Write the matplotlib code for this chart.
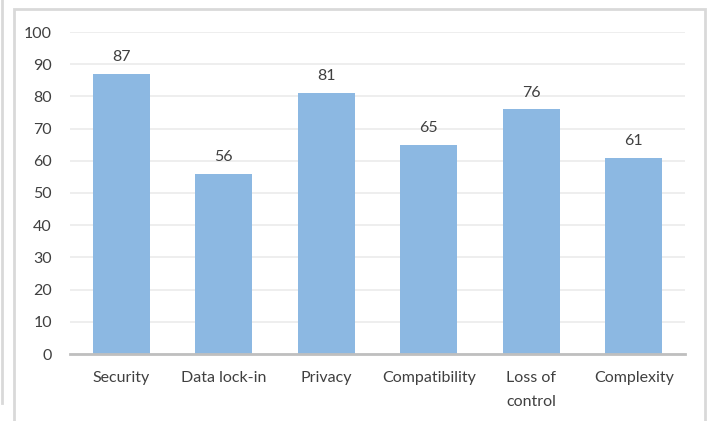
import matplotlib
matplotlib.use("Agg")
import matplotlib.pyplot as plt
from matplotlib.patches import Rectangle
from matplotlib.lines import Line2D

categories = ["Security", "Data lock-in", "Privacy", "Compatibility", "Loss of\ncontrol", "Complexity"]
values = [87, 56, 81, 65, 76, 61]
yticks = [0, 10, 20, 30, 40, 50, 60, 70, 80, 90, 100]

W, H = 712, 421
plt.rcParams['font.family'] = ['Lato', 'DejaVu Sans']
fig = plt.figure(figsize=(W/100, H/100), dpi=100)
fig.patch.set_facecolor('white')

# outer chart frame
fig.add_artist(Rectangle((14/W, -0.05), (705-14)/W, 1.05 - 9/H, transform=fig.transFigure,
                         fill=False, edgecolor='#D9D9D9', linewidth=2))
fig.add_artist(Line2D([1.5/W, 1.5/W], [1 - 403/H, 1.0], transform=fig.transFigure,
                      color='#D9D9D9', linewidth=2))

ax = fig.add_axes([70/W, 1 - 354/H, (685-70)/W, (354-32)/H])
x = list(range(len(categories)))
bars = ax.bar(x, values, width=0.56, color='#8CB8E2', zorder=3)
ax.set_xlim(-0.5, len(categories) - 0.5)
ax.set_ylim(0, 100)
ax.set_yticks(yticks)
ax.set_yticklabels([str(t) for t in yticks])
ax.set_xticks(x)
ax.set_xticklabels(categories, linespacing=1.95, va='top')
ax.grid(axis='y', color='#EBEBEB', linewidth=1.2, zorder=0)
for s in ['top', 'right', 'left']:
    ax.spines[s].set_visible(False)
ax.spines['bottom'].set_color('#BFBFBF')
ax.spines['bottom'].set_linewidth(2)
ax.spines['bottom'].set_zorder(4)
ax.tick_params(axis='both', length=0, labelsize=11.5, labelcolor='#404040')
ax.tick_params(axis='y', pad=13)
ax.tick_params(axis='x', pad=12)
for xi, v in zip(x, values):
    ax.annotate(str(v), (xi, v), xytext=(0, 7), textcoords='offset points',
                ha='center', va='bottom', fontsize=11.5, color='#404040')

fig.savefig('out.png', dpi=100, facecolor='white')
